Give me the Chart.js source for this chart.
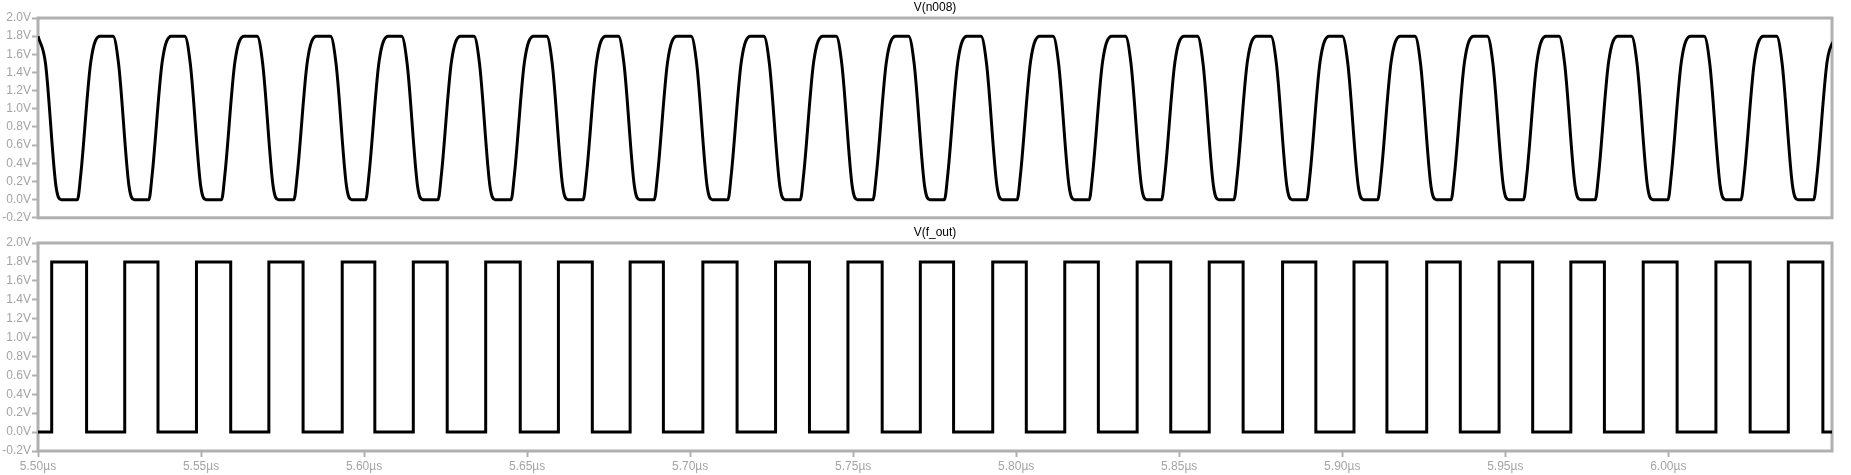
<!DOCTYPE html>
<html lang="en">
<head>
    <meta charset="UTF-8">
    <title>V(n008) / V(f_out)</title>
    <script src="https://cdn.jsdelivr.net/npm/chart.js@4.4.1/dist/chart.umd.min.js"></script>
    <style>
        body {
            margin: 0;
            background: #ffffff;
        }
        .pane {
            position: absolute;
            left: 0;
        }
        #top-pane { top: 0; }
        #bottom-pane { top: 226px; }
    </style>
</head>
<body>

<div class="pane" id="top-pane"><canvas id="n008_chart" width="1851" height="226"></canvas></div>
<div class="pane" id="bottom-pane"><canvas id="f_out_chart" width="1851" height="249"></canvas></div>

<script>
    // axis values (time in µs, voltage in V)
    const yTicks = [-0.2, 0.0, 0.2, 0.4, 0.6, 0.8, 1.0, 1.2, 1.4, 1.6, 1.8, 2.0];
    const xTicks = [5.50, 5.55, 5.60, 5.65, 5.70, 5.75, 5.80, 5.85, 5.90, 5.95, 6.00];
    const timeMin = 5.50;
    const timeMax = 6.0502;

    // V(n008): points, one row = rising edge + following falling edge
    const n008Time = [
        5.5000, 5.5023, 5.5055, 5.5071,
        5.5121, 5.5131, 5.5162, 5.5190, 5.5230, 5.5247, 5.5279, 5.5295,
        5.5340, 5.5350, 5.5381, 5.5409, 5.5450, 5.5467, 5.5499, 5.5515,
        5.5563, 5.5573, 5.5604, 5.5632, 5.5672, 5.5689, 5.5721, 5.5737,
        5.5785, 5.5795, 5.5826, 5.5854, 5.5897, 5.5914, 5.5946, 5.5962,
        5.6005, 5.6015, 5.6046, 5.6074, 5.6115, 5.6132, 5.6164, 5.6180,
        5.6227, 5.6237, 5.6268, 5.6296, 5.6337, 5.6354, 5.6386, 5.6402,
        5.6451, 5.6461, 5.6492, 5.6520, 5.6560, 5.6577, 5.6609, 5.6625,
        5.6672, 5.6682, 5.6713, 5.6741, 5.6780, 5.6797, 5.6829, 5.6845,
        5.6890, 5.6900, 5.6931, 5.6959, 5.7003, 5.7020, 5.7052, 5.7068,
        5.7116, 5.7126, 5.7157, 5.7185, 5.7226, 5.7243, 5.7275, 5.7291,
        5.7338, 5.7348, 5.7379, 5.7407, 5.7448, 5.7465, 5.7497, 5.7513,
        5.7561, 5.7571, 5.7602, 5.7630, 5.7670, 5.7687, 5.7719, 5.7735,
        5.7780, 5.7790, 5.7821, 5.7849, 5.7892, 5.7909, 5.7941, 5.7957,
        5.8003, 5.8013, 5.8044, 5.8072, 5.8113, 5.8130, 5.8162, 5.8178,
        5.8224, 5.8234, 5.8265, 5.8293, 5.8335, 5.8352, 5.8384, 5.8400,
        5.8446, 5.8456, 5.8487, 5.8515, 5.8556, 5.8573, 5.8605, 5.8621,
        5.8668, 5.8678, 5.8709, 5.8737, 5.8781, 5.8798, 5.8830, 5.8846,
        5.8891, 5.8901, 5.8932, 5.8960, 5.9000, 5.9017, 5.9049, 5.9065,
        5.9109, 5.9119, 5.9150, 5.9178, 5.9223, 5.9240, 5.9272, 5.9288,
        5.9334, 5.9344, 5.9375, 5.9403, 5.9445, 5.9462, 5.9494, 5.9510,
        5.9556, 5.9566, 5.9597, 5.9625, 5.9665, 5.9682, 5.9714, 5.9730,
        5.9776, 5.9786, 5.9817, 5.9845, 5.9887, 5.9904, 5.9936, 5.9952,
        5.9999, 6.0009, 6.0040, 6.0068, 6.0110, 6.0127, 6.0159, 6.0175,
        6.0223, 6.0233, 6.0264, 6.0292, 6.0332, 6.0349, 6.0381, 6.0397,
        6.0446, 6.0456, 6.0487, 6.0515
    ];
    const n008Volt = [
        1.80, 1.50, 0.15, 0.00,
        0.00, 0.27, 1.52, 1.80, 1.80, 1.50, 0.15, 0.00,
        0.00, 0.27, 1.52, 1.80, 1.80, 1.50, 0.15, 0.00,
        0.00, 0.27, 1.52, 1.80, 1.80, 1.50, 0.15, 0.00,
        0.00, 0.27, 1.52, 1.80, 1.80, 1.50, 0.15, 0.00,
        0.00, 0.27, 1.52, 1.80, 1.80, 1.50, 0.15, 0.00,
        0.00, 0.27, 1.52, 1.80, 1.80, 1.50, 0.15, 0.00,
        0.00, 0.27, 1.52, 1.80, 1.80, 1.50, 0.15, 0.00,
        0.00, 0.27, 1.52, 1.80, 1.80, 1.50, 0.15, 0.00,
        0.00, 0.27, 1.52, 1.80, 1.80, 1.50, 0.15, 0.00,
        0.00, 0.27, 1.52, 1.80, 1.80, 1.50, 0.15, 0.00,
        0.00, 0.27, 1.52, 1.80, 1.80, 1.50, 0.15, 0.00,
        0.00, 0.27, 1.52, 1.80, 1.80, 1.50, 0.15, 0.00,
        0.00, 0.27, 1.52, 1.80, 1.80, 1.50, 0.15, 0.00,
        0.00, 0.27, 1.52, 1.80, 1.80, 1.50, 0.15, 0.00,
        0.00, 0.27, 1.52, 1.80, 1.80, 1.50, 0.15, 0.00,
        0.00, 0.27, 1.52, 1.80, 1.80, 1.50, 0.15, 0.00,
        0.00, 0.27, 1.52, 1.80, 1.80, 1.50, 0.15, 0.00,
        0.00, 0.27, 1.52, 1.80, 1.80, 1.50, 0.15, 0.00,
        0.00, 0.27, 1.52, 1.80, 1.80, 1.50, 0.15, 0.00,
        0.00, 0.27, 1.52, 1.80, 1.80, 1.50, 0.15, 0.00,
        0.00, 0.27, 1.52, 1.80, 1.80, 1.50, 0.15, 0.00,
        0.00, 0.27, 1.52, 1.80, 1.80, 1.50, 0.15, 0.00,
        0.00, 0.27, 1.52, 1.80, 1.80, 1.50, 0.15, 0.00,
        0.00, 0.27, 1.52, 1.80, 1.80, 1.50, 0.15, 0.00,
        0.00, 0.27, 1.52, 1.80
    ];

    // V(f_out): edge times and the level after each edge
    const fOutTime = [
        5.5000,
        5.5042, 5.5149, 5.5266, 5.5368, 5.5486, 5.5591, 5.5708, 5.5813,
        5.5933, 5.6033, 5.6151, 5.6255, 5.6373, 5.6479, 5.6596, 5.6700,
        5.6816, 5.6918, 5.7039, 5.7144, 5.7262, 5.7366, 5.7484, 5.7589,
        5.7706, 5.7808, 5.7928, 5.8031, 5.8149, 5.8252, 5.8371, 5.8474,
        5.8592, 5.8696, 5.8817, 5.8919, 5.9036, 5.9137, 5.9259, 5.9362,
        5.9481, 5.9584, 5.9701, 5.9804, 5.9923, 6.0027, 6.0146, 6.0251,
        6.0368, 6.0474,
        6.0502
    ];
    const fOutLevel = [
        0.0,
        1.8, 0.0, 1.8, 0.0, 1.8, 0.0, 1.8, 0.0,
        1.8, 0.0, 1.8, 0.0, 1.8, 0.0, 1.8, 0.0,
        1.8, 0.0, 1.8, 0.0, 1.8, 0.0, 1.8, 0.0,
        1.8, 0.0, 1.8, 0.0, 1.8, 0.0, 1.8, 0.0,
        1.8, 0.0, 1.8, 0.0, 1.8, 0.0, 1.8, 0.0,
        1.8, 0.0, 1.8, 0.0, 1.8, 0.0, 1.8, 0.0,
        1.8, 0.0,
        0.0
    ];

    const frameColor = '#b0b0b0';
    const labelColor = '#a4a4a4';
    const fontFamily = '"Liberation Sans", Arial, sans-serif';

    // grey box round the plot area plus the trace name above it
    function panelPlugin(title) {
        return {
            id: 'panel',
            beforeDatasetsDraw(chart) {
                const ctx = chart.ctx;
                const a = chart.chartArea;
                ctx.save();
                ctx.strokeStyle = frameColor;
                ctx.lineWidth = 3;
                ctx.strokeRect(a.left, a.top, a.right - a.left, a.bottom - a.top);
                ctx.fillStyle = '#000000';
                ctx.font = '12px ' + fontFamily;
                ctx.textAlign = 'center';
                ctx.textBaseline = 'middle';
                ctx.fillText(title, (a.left + a.right) / 2, a.top - 10);
                ctx.restore();
            }
        };
    }

    function makeChart(canvasId, title, points, extra, showTime, padding) {
        const dataset = Object.assign({
            data: points,
            borderColor: '#000000',
            borderWidth: 3,
            pointRadius: 0,
            fill: false
        }, extra);

        return new Chart(document.getElementById(canvasId), {
            type: 'line',
            data: { datasets: [dataset] },
            options: {
                responsive: false,
                animation: false,
                events: [],
                layout: { padding: padding },
                plugins: {
                    legend: { display: false },
                    tooltip: { enabled: false }
                },
                scales: {
                    x: {
                        type: 'linear',
                        min: timeMin,
                        max: timeMax,
                        display: showTime,
                        afterBuildTicks: (scale) => {
                            scale.ticks = xTicks.map((v) => ({ value: v }));
                        },
                        afterFit: (scale) => { scale.height = showTime ? 24 : 0; },
                        border: { display: false },
                        grid: {
                            drawOnChartArea: false,
                            tickLength: 6,
                            tickWidth: 2,
                            tickColor: frameColor
                        },
                        ticks: {
                            autoSkip: false,
                            maxRotation: 0,
                            padding: 2,
                            color: labelColor,
                            font: { family: fontFamily, size: 12 },
                            callback: (v) => v.toFixed(2) + 'µs'
                        }
                    },
                    y: {
                        min: -0.2,
                        max: 2.0,
                        afterBuildTicks: (scale) => {
                            scale.ticks = yTicks.map((v) => ({ value: v }));
                        },
                        afterFit: (scale) => { scale.width = 38; },
                        border: { display: false },
                        grid: {
                            drawOnChartArea: false,
                            tickLength: 6,
                            tickWidth: 2,
                            tickColor: frameColor
                        },
                        ticks: {
                            autoSkip: false,
                            padding: 1,
                            color: labelColor,
                            font: { family: fontFamily, size: 12 },
                            callback: (v) => v.toFixed(1) + 'V'
                        }
                    }
                }
            },
            plugins: [panelPlugin(title)]
        });
    }

    const n008Points = n008Time.map((t, i) => ({ x: t, y: n008Volt[i] }));
    const fOutPoints = fOutTime.map((t, i) => ({ x: t, y: fOutLevel[i] }));

    makeChart('n008_chart', 'V(n008)', n008Points,
        { cubicInterpolationMode: 'monotone' }, false,
        { top: 18, right: 19, bottom: 4, left: 0 });

    makeChart('f_out_chart', 'V(f_out)', fOutPoints,
        { stepped: 'before' }, true,
        { top: 17, right: 19, bottom: 0, left: 0 });
</script>
</body>
</html>
